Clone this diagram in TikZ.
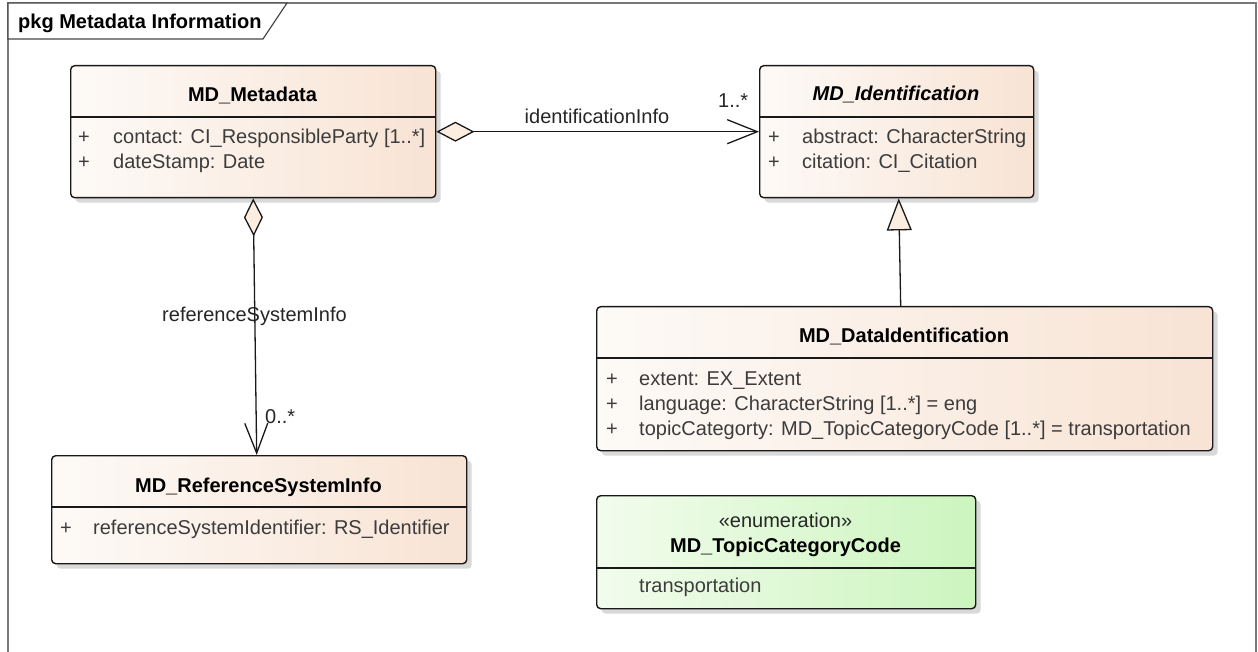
\documentclass[tikz,border=0pt]{standalone}
\usepackage{fontspec}
\setmainfont{Liberation Sans}
\usetikzlibrary{arrows.meta,shadows}

\definecolor{peachL}{RGB}{253,250,247}
\definecolor{peachR}{RGB}{248,227,212}
\definecolor{greenL}{RGB}{242,252,237}
\definecolor{greenR}{RGB}{204,245,190}
\definecolor{framegray}{RGB}{120,120,120}
\definecolor{tabgray}{RGB}{70,70,70}
\definecolor{attrtext}{RGB}{60,60,60}
\definecolor{tipfill}{RGB}{251,238,224}

\begin{document}
\begin{tikzpicture}[x=1pt,y=-1pt,
  font=\fontsize{20}{24}\selectfont,
  box/.style={draw=black!90, line width=1.4pt, rounded corners=4pt, inner sep=0pt,
    anchor=north west,
    drop shadow={shadow xshift=5pt, shadow yshift=-5pt, fill=black!15, opacity=1}},
  classbox/.style={box, left color=peachL, right color=peachR},
  enumbox/.style={box, left color=greenL, right color=greenR},
  divider/.style={black!90, line width=1.2pt},
  title/.style={anchor=base, inner sep=0pt, font=\fontsize{20}{24}\selectfont\bfseries},
  attr/.style={anchor=base west, inner sep=0pt, text=attrtext},
  vis/.style={anchor=base, inner sep=0pt, text=attrtext},
  lbl/.style={inner sep=0pt, text=black!85},
  conn/.style={line width=1.3pt, black!90},
]
% canvas
\fill[white] (0,0) rectangle (1258,652);
\useasboundingbox (0,0) rectangle (1258,652);

% package frame and its name tab
\draw[framegray, line width=1.2pt] (8,660) -- (8,3) -- (1256,3) -- (1256,660);
\draw[tabgray, line width=1.2pt, fill=white] (8,3) -- (287,3) -- (263,39) -- (8,39) -- cycle;
\node[anchor=base west, inner sep=0pt, font=\fontsize{20}{24}\selectfont\bfseries] (pkg) at (18,29) {pkg Metadata Information};

% MD_Metadata
\node[classbox, minimum width=365pt, minimum height=132pt] (md) at (70,65) {};
\draw[divider] (70,117) -- (435,117);
\node[title] (mdT) at (252.5,102) {MD\_Metadata};
\node[vis] (mdP1) at (84,144) {+};
\node[attr] (mdA1) at (113,144) {contact: CI\_ResponsibleParty [1..*]};
\node[vis] (mdP2) at (84,169) {+};
\node[attr] (mdA2) at (113,169) {dateStamp: Date};

% MD_Identification
\node[classbox, minimum width=274pt, minimum height=132pt] (mdid) at (759,65) {};
\draw[divider] (759,117) -- (1033,117);
\node[title, font=\fontsize{20}{24}\selectfont\bfseries\itshape] (mdidT) at (896,101) {MD\_Identification};
\node[vis] (mdidP1) at (774,144) {+};
\node[attr] (mdidA1) at (802,144) {abstract: CharacterString};
\node[vis] (mdidP2) at (774,169) {+};
\node[attr] (mdidA2) at (802,169) {citation: CI\_Citation};

% MD_DataIdentification
\node[classbox, minimum width=616pt, minimum height=144pt] (mdi) at (596,306) {};
\draw[divider] (596,358) -- (1212,358);
\node[title] (mdiT) at (904,342) {MD\_DataIdentification};
\node[vis] (mdiP1) at (612,385) {+};
\node[attr] (mdiA1) at (639,385) {extent: EX\_Extent};
\node[vis] (mdiP2) at (612,410) {+};
\node[attr] (mdiA2) at (639,410) {language: CharacterString [1..*] = eng};
\node[vis] (mdiP3) at (612,435) {+};
\node[attr] (mdiA3) at (639,435) {topicCategorty: MD\_TopicCategoryCode [1..*] = transportation};

% MD_ReferenceSystemInfo
\node[classbox, minimum width=415pt, minimum height=108pt] (rsi) at (51,455) {};
\draw[divider] (51,507) -- (466,507);
\node[title] (rsiT) at (258.5,492) {MD\_ReferenceSystemInfo};
\node[vis] (rsiP1) at (66,534) {+};
\node[attr] (rsiA1) at (93,534) {referenceSystemIdentifier: RS\_Identifier};

% MD_TopicCategoryCode enumeration
\node[enumbox, minimum width=379pt, minimum height=113pt] (enum) at (596,495) {};
\draw[divider] (596,568) -- (975,568);
\node[anchor=base, inner sep=0pt, text=black!85] (enumS) at (785.5,527) {«enumeration»};
\node[title] (enumT) at (785.5,552) {MD\_TopicCategoryCode};
\node[attr] (enumL1) at (639,592) {transportation};

% associations
\draw[conn, {Diamond[length=38pt,width=20pt,fill=tipfill]}-{Straight Barb[length=30pt,width=24pt]}]
  (md.east) -- (mdid.west);
\node[lbl, anchor=base] (idLbl) at (597,124) {identificationInfo};
\node[lbl, anchor=base west] (idMult) at (718,108) {1..*};

\draw[conn, {Diamond[length=38pt,width=19pt,fill=tipfill]}-{Straight Barb[length=30pt,width=23pt]}]
  (md.south) -- ([xshift=-2.5pt]rsi.north);
\node[lbl, anchor=base] (refLbl) at (254.5,321) {referenceSystemInfo};
\node[lbl, anchor=base west] (refMult) at (265,423) {0..*};

% generalization
\draw[conn, -{Triangle[length=32pt,width=25pt,fill=tipfill]}]
  ([xshift=-4pt]mdi.north) -- ([xshift=2pt]mdid.south);
\end{tikzpicture}
\end{document}
